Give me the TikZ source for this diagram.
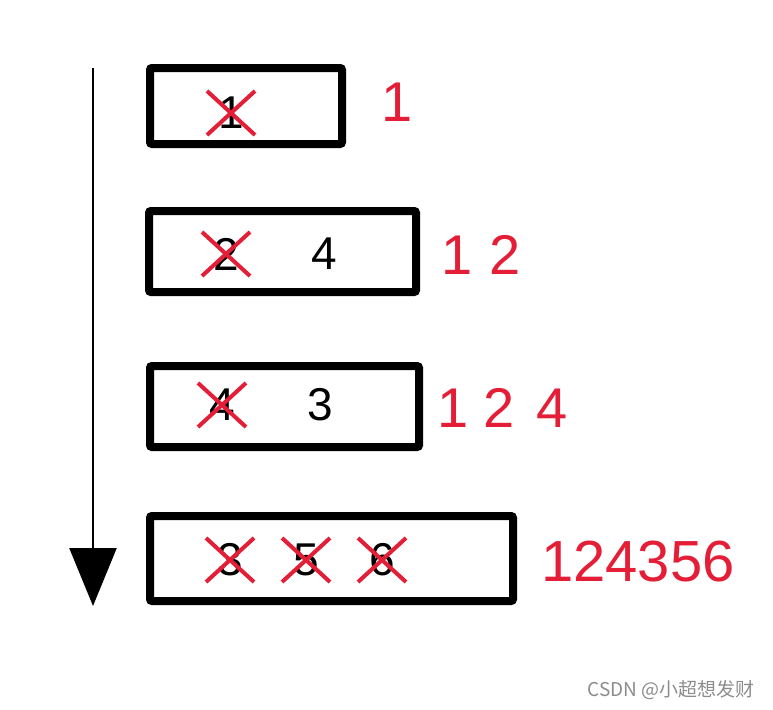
\documentclass[tikz,border=0pt]{standalone}
\usepackage{fontspec}
\setmainfont{Liberation Sans}
\newfontfamily\cjk{Noto Sans CJK SC}
\usetikzlibrary{shapes.misc, arrows.meta}
\definecolor{pen}{RGB}{228,30,55}

\begin{document}
\begin{tikzpicture}[x=1pt, y=-1pt]
	\tikzstyle{slot}=[rectangle, draw, line width=8pt, rounded corners=2pt]
	\tikzstyle{num}=[font=\fontsize{46}{46}\selectfont, inner sep=0pt]
	\tikzstyle{gone}=[num, cross out, draw=pen, line width=4pt, minimum width=44pt, minimum height=40pt]
	\tikzstyle{seen}=[font=\fontsize{56}{56}\selectfont, text=pen, inner sep=0pt, anchor=west]

	\useasboundingbox (0,0) rectangle (773,709);

	% queue snapshots
	\node[slot, minimum width=192pt, minimum height=76pt] (stepA) at (246,106) {};
	\node[slot, minimum width=267pt, minimum height=81pt] (stepB) at (282.5,251.5) {};
	\node[slot, minimum width=269pt, minimum height=81pt] (stepC) at (284.5,406.5) {};
	\node[slot, minimum width=363pt, minimum height=85pt] (stepD) at (331.5,558.5) {};

	\node[gone] (a1) at (231,113) {1};

	\node[gone] (b2) at (226,254) {2};
	\node[num] (b4) at (324,254) {4};

	\node[gone] (c4) at (222,405) {4};
	\node[num] (c3) at (320,405) {3};

	\node[gone] (d3) at (230,560) {3};
	\node[gone] (d5) at (306,560) {5};
	\node[gone] (d6) at (382,560) {6};

	% visited order
	\node[seen] (visA) at (381,102) {1};
	\node[seen] (visB) at (441,255) {1\hspace{17pt}2};
	\node[seen] (visC) at (437,408) {1\hspace{15pt}2\hspace{22pt}4};
	\node[seen, font=\fontsize{58}{58}\selectfont] (visD) at (541,562) {124356};

	\coordinate (start) at (93,68);
	\coordinate (stop) at (93,606);
	\draw[line width=2.5pt, -{Triangle[length=58pt, width=47pt]}] (start) -- (stop);

	\node[font=\cjk\fontsize{19}{19}\selectfont, text=black!45, anchor=east] (mark) at (758,690) {CSDN @小超想发财};
\end{tikzpicture}
\end{document}
